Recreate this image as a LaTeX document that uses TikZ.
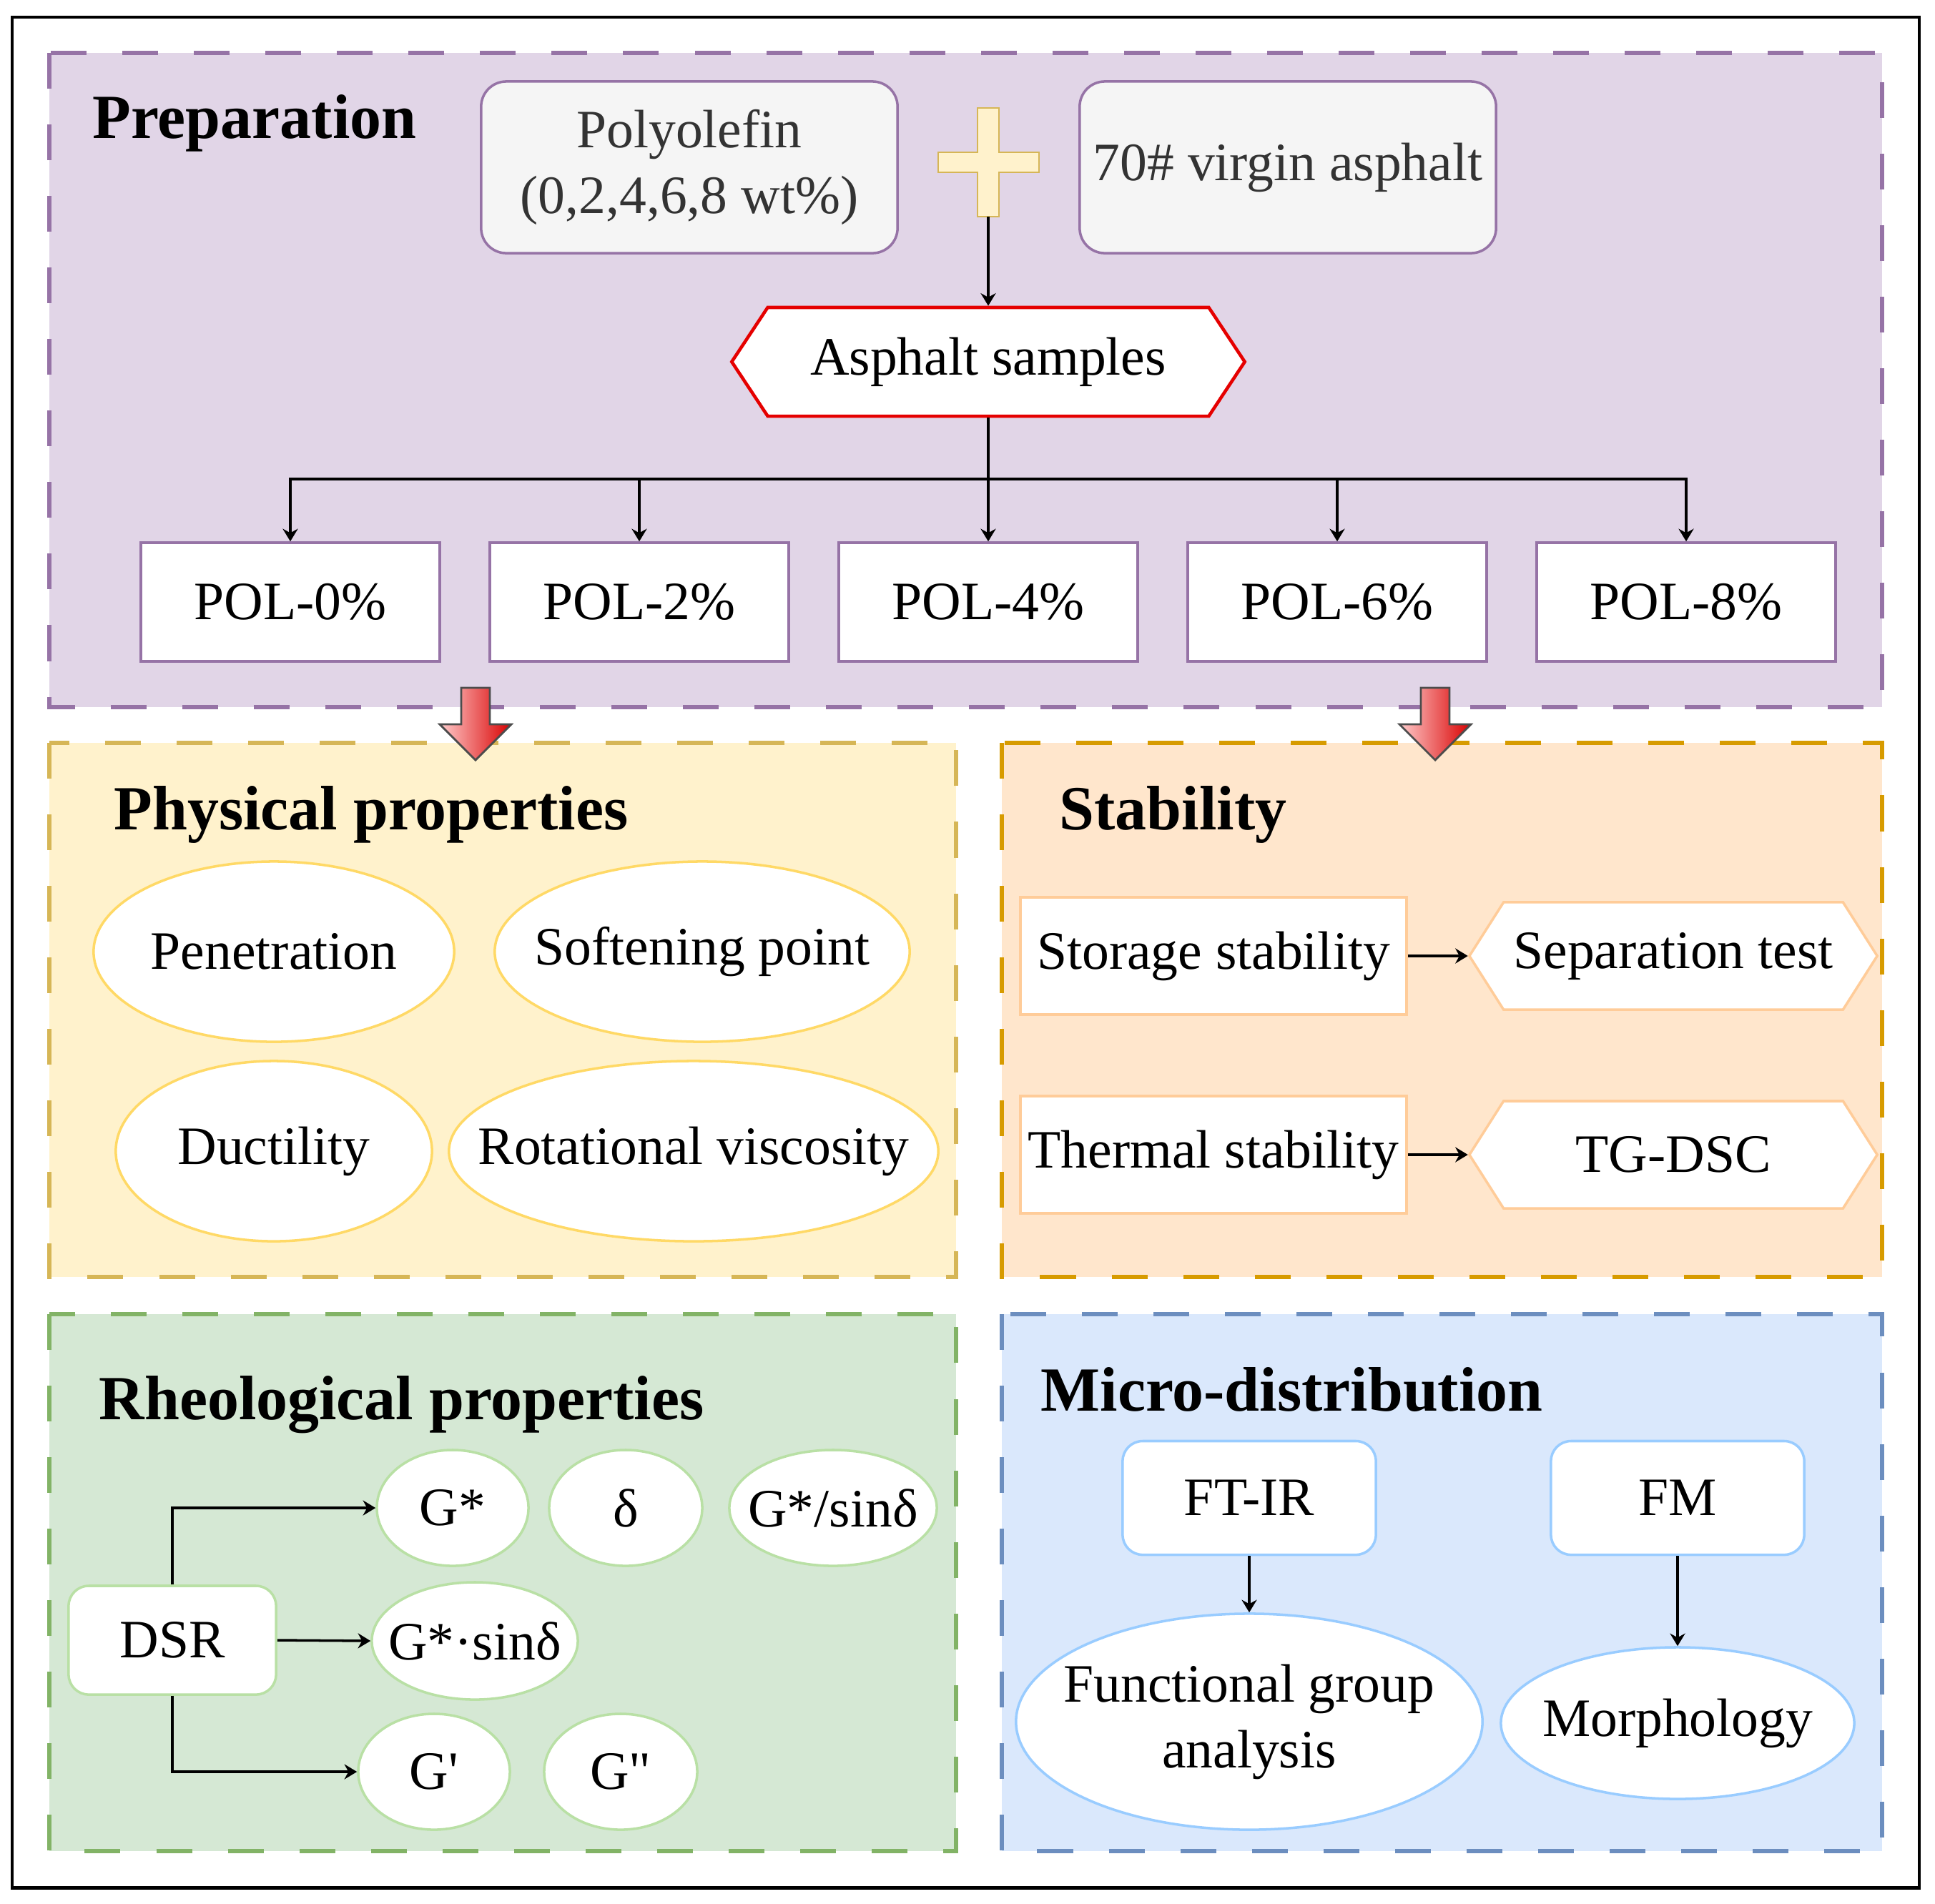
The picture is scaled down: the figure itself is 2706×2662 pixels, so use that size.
\documentclass[tikz,border=0pt]{standalone}
\usepackage{fontspec}
\setmainfont{Liberation Serif}
\usetikzlibrary{arrows.meta}
\usetikzlibrary{shapes.geometric, shapes.symbols}

\definecolor{prepfill}{HTML}{E1D5E7}
\definecolor{prepline}{HTML}{9673A6}
\definecolor{physfill}{HTML}{FFF2CC}
\definecolor{physline}{HTML}{D6B656}
\definecolor{physoval}{HTML}{FFD966}
\definecolor{stabfill}{HTML}{FFE6CC}
\definecolor{stabline}{HTML}{D79B00}
\definecolor{staboval}{HTML}{FFCC99}
\definecolor{rheofill}{HTML}{D5E8D4}
\definecolor{rheoline}{HTML}{82B366}
\definecolor{rheooval}{HTML}{B9E0A5}
\definecolor{microfill}{HTML}{DAE8FC}
\definecolor{microline}{HTML}{6C8EBF}
\definecolor{microoval}{HTML}{99CCFF}

\newcommand{\ovaltext}[1]{\makebox[0pt]{#1}}

\tikzset{
  panel/.style={line width=1.6pt, dash pattern=on 0.5cm off 0.5cm},
  title/.style={anchor=base west, inner sep=0pt, font=\fontsize{25pt}{30pt}\selectfont\bfseries},
  arrow/.style={line width=1pt, -{Stealth[length=5pt, width=6pt]}},
  feedbox/.style={draw=prepline, fill=black!4, rounded corners=10pt, line width=1pt,
    minimum width=5.82cm, minimum height=2.4cm, align=center, text=black!80},
  polbox/.style={draw=prepline, fill=white, line width=1pt, minimum width=4.18cm, minimum height=1.66cm},
  hexbox/.style={signal, signal to=east and west, fill=white, line width=1pt},
  oval/.style={ellipse, fill=white, line width=1pt, inner sep=0pt},
  roundbox/.style={rounded corners=8pt, fill=white, line width=1pt},
  downarrow/.style={draw=black!70, line width=0.8pt, left color=red!20, right color=red!85!black}
}

\begin{document}
\begin{tikzpicture}[x=0.01cm, y=-0.01cm, font=\fontsize{21.5pt}{26pt}\selectfont]
  \useasboundingbox (0,0) rectangle (2706,2662);
  \draw[line width=1.4pt] (17,24) rectangle (2684,2640);

  % panels
  \draw[panel, draw=prepline, fill=prepfill] (69,74) rectangle (2632,989);
  \draw[panel, draw=physline, fill=physfill] (69,1039) rectangle (1337,1786);
  \draw[panel, draw=stabline, fill=stabfill] (1401,1039) rectangle (2632,1786);
  \draw[panel, draw=rheoline, fill=rheofill] (69,1838) rectangle (1337,2589);
  \draw[panel, draw=microline, fill=microfill] (1401,1838) rectangle (2632,2589);

  % preparation
  \node[title] (preptitle) at (129,193) {Preparation};
  \node[feedbox] (polyolefin) at (964,234) {Polyolefin\\(0,2,4,6,8 wt\%)};
  \node[feedbox] (virgin) at (1801,234) {70\# virgin asphalt};
  \draw[draw=physline, fill=physfill, line width=0.8pt]
    (1367,151) -- (1397,151) -- (1397,213) -- (1453,213) -- (1453,241) -- (1397,241)
    -- (1397,303) -- (1367,303) -- (1367,241) -- (1312,241) -- (1312,213) -- (1367,213) -- cycle;
  \coordinate (plusbot) at (1382,303);
  \node[hexbox, draw=red!90!black, line width=1.3pt, signal pointer angle=113,
    minimum width=7.17cm, minimum height=1.52cm] (samples) at (1382,506) {Asphalt samples};
  \draw[arrow] (plusbot) -- (samples.north);

  \coordinate (split) at (1382,670);
  \draw[line width=1pt] (samples.south) -- (split);
  \foreach \p [count=\i from 0] in {0,2,4,6,8}{
    \node[polbox] (pol\p) at (406+488*\i,842) {POL-\p\%};
    \draw[arrow] (split) -| (pol\p.north);
  }

  % arrows between panels
  \foreach \cx in {665,2007}{
    \draw[downarrow] (\cx-20,962) -- (\cx+20,962) -- (\cx+20,1013) -- (\cx+50,1013)
      -- (\cx,1063) -- (\cx-50,1013) -- (\cx-20,1013) -- cycle;
  }

  % physical properties
  \node[title] (phystitle) at (159,1160) {Physical properties};
  \node[oval, draw=physoval, minimum width=5.04cm, minimum height=2.52cm] (penetration) at (383,1331) {\ovaltext{Penetration}};
  \node[oval, draw=physoval, minimum width=5.8cm, minimum height=2.52cm] (softening) at (982,1331) {\ovaltext{Softening point}};
  \node[oval, draw=physoval, minimum width=4.42cm, minimum height=2.52cm] (ductility) at (383,1610) {\ovaltext{Ductility}};
  \node[oval, draw=physoval, minimum width=6.84cm, minimum height=2.52cm] (viscosity) at (970,1610) {\ovaltext{Rotational viscosity}};

  % stability
  \node[title] (stabtitle) at (1481,1160) {Stability};
  \node[draw=staboval, fill=white, line width=1pt, minimum width=5.4cm, minimum height=1.64cm, inner sep=0pt] (storage) at (1697,1337) {Storage stability};
  \node[draw=staboval, fill=white, line width=1pt, minimum width=5.4cm, minimum height=1.64cm, inner sep=0pt] (thermal) at (1697,1615) {Thermal stability};
  \node[hexbox, draw=staboval, signal pointer angle=115, minimum width=5.7cm, minimum height=1.5cm] (septest) at (2340,1337) {Separation test};
  \node[hexbox, draw=staboval, signal pointer angle=115, minimum width=5.7cm, minimum height=1.5cm] (tgdsc) at (2340,1615) {TG-DSC};
  \draw[arrow] (storage.east) -- (septest.west);
  \draw[arrow] (thermal.east) -- (tgdsc.west);

  % rheological properties
  \node[title] (rheotitle) at (138,1985) {Rheological properties};
  \node[roundbox, draw=rheooval, minimum width=2.9cm, minimum height=1.52cm] (dsr) at (241,2294) {DSR};
  \node[oval, draw=rheooval, minimum width=2.12cm, minimum height=1.62cm] (gstar) at (633,2109) {\ovaltext{G*}};
  \node[oval, draw=rheooval, minimum width=2.14cm, minimum height=1.62cm] (delta) at (875,2109) {\ovaltext{δ}};
  \node[oval, draw=rheooval, minimum width=2.9cm, minimum height=1.62cm] (gdiv) at (1165,2109) {\ovaltext{G*/sinδ}};
  \node[oval, draw=rheooval, minimum width=2.88cm, minimum height=1.64cm] (gmul) at (664,2295) {\ovaltext{G*·sinδ}};
  \node[oval, draw=rheooval, minimum width=2.12cm, minimum height=1.62cm] (gp) at (607,2478) {\ovaltext{G\textquotesingle}};
  \node[oval, draw=rheooval, minimum width=2.14cm, minimum height=1.62cm] (gpp) at (868,2478) {\ovaltext{G\textquotedbl}};
  \draw[arrow] (dsr.north) |- (gstar.west);
  \draw[arrow] (dsr.east) -- (gmul.west);
  \draw[arrow] (dsr.south) |- (gp.west);

  % micro-distribution
  \node[title] (microtitle) at (1455,1973) {Micro-distribution};
  \node[roundbox, draw=microoval, minimum width=3.54cm, minimum height=1.59cm] (ftir) at (1747,2095) {FT-IR};
  \node[roundbox, draw=microoval, minimum width=3.54cm, minimum height=1.59cm] (fm) at (2346,2095) {FM};
  \node[oval, draw=microoval, minimum width=6.52cm, minimum height=3.02cm] (funcgroup) at (1747,2408)
    {\ovaltext{\begin{tabular}{@{}c@{}}Functional group\\analysis\end{tabular}}};
  \node[oval, draw=microoval, minimum width=4.94cm, minimum height=2.12cm] (morph) at (2346,2410) {\ovaltext{Morphology}};
  \draw[arrow] (ftir.south) -- (funcgroup.north);
  \draw[arrow] (fm.south) -- (morph.north);
\end{tikzpicture}
\end{document}
